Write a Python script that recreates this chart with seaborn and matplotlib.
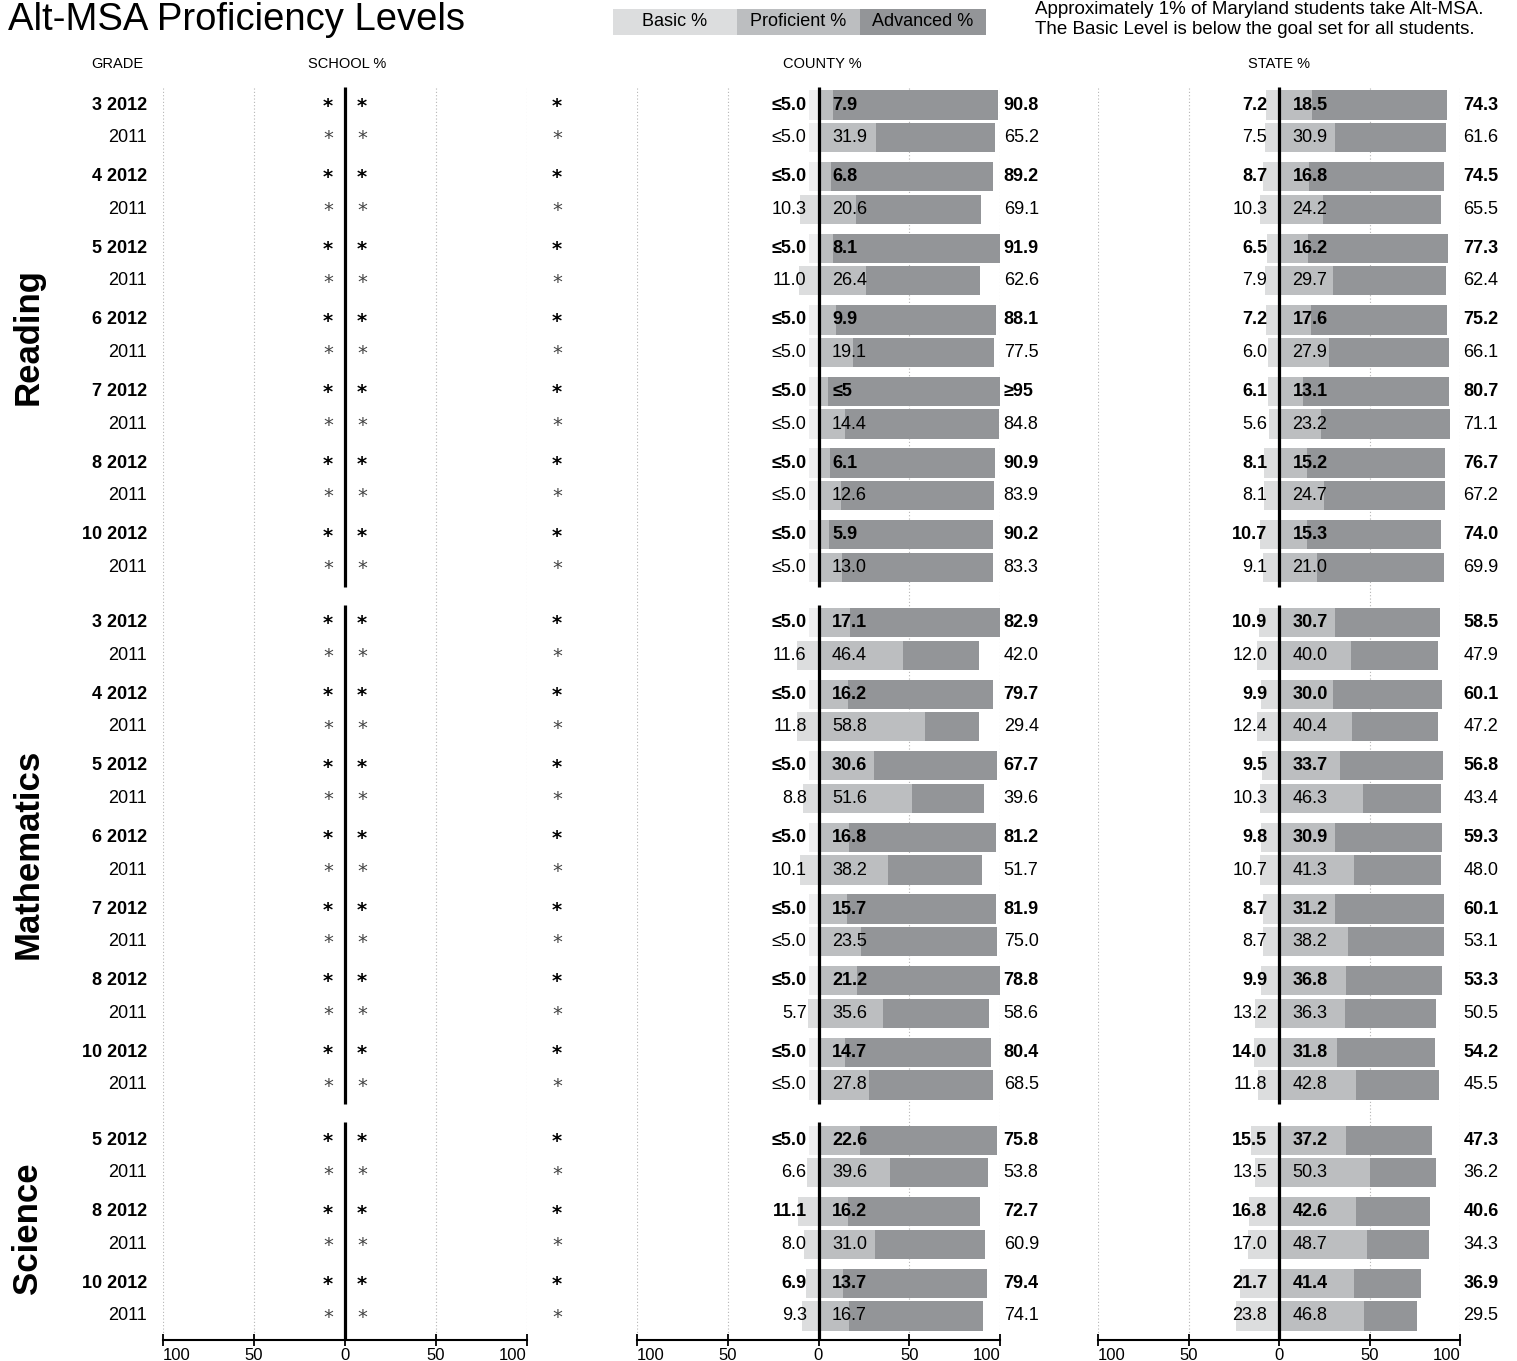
import numpy as np
import pandas as pd
import matplotlib.pyplot as plt
import matplotlib.transforms as mtransforms
from matplotlib.patches import Rectangle
import seaborn as sns

# ---- data -------------------------------------------------------------
subjects = ["Reading", "Mathematics", "Science"]
grades = {
    "Reading": ["3", "4", "5", "6", "7", "8", "10"],
    "Mathematics": ["3", "4", "5", "6", "7", "8", "10"],
    "Science": ["5", "8", "10"],
}
years = ["2012", "2011"]

# values as printed, one entry per row (grade 2012, grade 2011, ...)
county_basic = [
    "≤5.0", "≤5.0", "≤5.0", "10.3", "≤5.0", "11.0", "≤5.0", "≤5.0", "≤5.0", "≤5.0", "≤5.0", "≤5.0", "≤5.0", "≤5.0",
    "≤5.0", "11.6", "≤5.0", "11.8", "≤5.0", "8.8", "≤5.0", "10.1", "≤5.0", "≤5.0", "≤5.0", "5.7", "≤5.0", "≤5.0",
    "≤5.0", "6.6", "11.1", "8.0", "6.9", "9.3",
]
county_prof = [
    "7.9", "31.9", "6.8", "20.6", "8.1", "26.4", "9.9", "19.1", "≤5", "14.4", "6.1", "12.6", "5.9", "13.0",
    "17.1", "46.4", "16.2", "58.8", "30.6", "51.6", "16.8", "38.2", "15.7", "23.5", "21.2", "35.6", "14.7", "27.8",
    "22.6", "39.6", "16.2", "31.0", "13.7", "16.7",
]
county_adv = [
    "90.8", "65.2", "89.2", "69.1", "91.9", "62.6", "88.1", "77.5", "≥95", "84.8", "90.9", "83.9", "90.2", "83.3",
    "82.9", "42.0", "79.7", "29.4", "67.7", "39.6", "81.2", "51.7", "81.9", "75.0", "78.8", "58.6", "80.4", "68.5",
    "75.8", "53.8", "72.7", "60.9", "79.4", "74.1",
]
state_basic = [
    "7.2", "7.5", "8.7", "10.3", "6.5", "7.9", "7.2", "6.0", "6.1", "5.6", "8.1", "8.1", "10.7", "9.1",
    "10.9", "12.0", "9.9", "12.4", "9.5", "10.3", "9.8", "10.7", "8.7", "8.7", "9.9", "13.2", "14.0", "11.8",
    "15.5", "13.5", "16.8", "17.0", "21.7", "23.8",
]
state_prof = [
    "18.5", "30.9", "16.8", "24.2", "16.2", "29.7", "17.6", "27.9", "13.1", "23.2", "15.2", "24.7", "15.3", "21.0",
    "30.7", "40.0", "30.0", "40.4", "33.7", "46.3", "30.9", "41.3", "31.2", "38.2", "36.8", "36.3", "31.8", "42.8",
    "37.2", "50.3", "42.6", "48.7", "41.4", "46.8",
]
state_adv = [
    "74.3", "61.6", "74.5", "65.5", "77.3", "62.4", "75.2", "66.1", "80.7", "71.1", "76.7", "67.2", "74.0", "69.9",
    "58.5", "47.9", "60.1", "47.2", "56.8", "43.4", "59.3", "48.0", "60.1", "53.1", "53.3", "50.5", "54.2", "45.5",
    "47.3", "36.2", "40.6", "34.3", "36.9", "29.5",
]
school_value = "*"  # school results suppressed

# ---- colours / fonts --------------------------------------------------
BASIC = "#dcddde"
BASIC_FAINT = "#eeeeef"
PROF = "#bcbec0"
ADV = "#939598"

sns.set_style("white")
plt.rcParams["font.family"] = ["Liberation Sans", "DejaVu Sans"]
plt.rcParams["text.color"] = "black"
plt.rcParams["xtick.color"] = "black"
plt.rcParams["axes.labelcolor"] = "black"
VAL_SIZE = 13


def num(s):
    return float(s.strip("≤≥"))


# ---- build table ------------------------------------------------------
rows = []
y = 0.0
for subj in subjects:
    for g in grades[subj]:
        for k, yr in enumerate(years):
            rows.append({"subject": subj, "grade": g, "year": yr, "y": round(y + k, 3)})
        y += 2.2
    y += 0.5
df = pd.DataFrame(rows)
df["county_basic"] = county_basic
df["county_prof"] = county_prof
df["county_adv"] = county_adv
df["state_basic"] = state_basic
df["state_prof"] = state_prof
df["state_adv"] = state_adv

px_per_unit = (1316 - 105) / df["y"].max()
y_top = -(105 - 85) / px_per_unit
y_bot = df["y"].max() + (1340 - 1316) / px_per_unit

# ---- figure -----------------------------------------------------------
W, H = 1517, 1361
fig = plt.figure(figsize=(W / 100, H / 100), dpi=100)


def add_panel(x0, x1):
    return fig.add_axes([x0 / W, 1 - 1340 / H, (x1 - x0) / W, (1340 - 85) / H])


ax_school = add_panel(163, 527)
ax_county = add_panel(637, 1000)
ax_state = add_panel(1098, 1460)


def style_axis(ax):
    ax.set_xlim(-100, 100)
    ax.set_ylim(y_bot, y_top)
    ax.set_xlabel("")
    ax.set_ylabel("")
    ax.set_yticks([])
    for side in ["top", "right", "left"]:
        ax.spines[side].set_visible(False)
    ax.spines["bottom"].set_bounds(-100, 100)
    ax.spines["bottom"].set_linewidth(1.5)
    ax.spines["bottom"].set_color("black")
    ax.set_xticks([-100, -50, 0, 50, 100])
    ax.set_xticklabels(["100", "50", "0", "50", "100"])
    ax.tick_params(axis="x", direction="inout", length=9, width=1.3, labelsize=12, pad=1, bottom=True)
    labs = ax.get_xticklabels()
    labs[0].set_ha("left")
    labs[-1].set_ha("right")
    ax.patch.set_alpha(0)
    # dotted guides
    ax.vlines([-100, -50, 50, 100], y_top + 0.1, y_bot, colors="#b5b5b5",
              linestyles=(0, (1, 2)), linewidth=0.8, zorder=0)
    # zero line per subject
    for subj in subjects:
        sub = df[df["subject"] == subj]
        lo = sub["y"].min() - 0.55
        hi = sub["y"].max() + 0.6 if subj != subjects[-1] else y_bot
        ax.vlines(0, lo, hi, colors="black", linewidth=2.3, zorder=6)


def draw_bars(ax, prefix):
    d = df.copy()
    d["basic_x"] = -d[prefix + "_basic"].map(num)
    d["basic_kind"] = np.where(d[prefix + "_basic"].str.startswith("≤"), "faint", "solid")
    d["prof_x"] = d[prefix + "_prof"].map(num)
    d["total_x"] = d["prof_x"] + d[prefix + "_adv"].map(num)
    common = dict(y="y", orient="h", native_scale=True, width=0.9, saturation=1,
                  errorbar=None, linewidth=0, ax=ax)
    sns.barplot(data=d, x="basic_x", hue="basic_kind", dodge=False,
                palette={"faint": BASIC_FAINT, "solid": BASIC}, legend=False, **common)
    sns.barplot(data=d, x="total_x", color=ADV, **common)
    sns.barplot(data=d, x="prof_x", color=PROF, **common)
    for _, r in d.iterrows():
        fw = "bold" if r["year"] == "2012" else "normal"
        ax.text(-6.5, r["y"], r[prefix + "_basic"], ha="right", va="center", fontsize=VAL_SIZE,
                fontweight=fw, zorder=7, clip_on=False)
        ax.text(7.5, r["y"], r[prefix + "_prof"], ha="left", va="center", fontsize=VAL_SIZE,
                fontweight=fw, zorder=7, clip_on=False)
        ax.text(102, r["y"], r[prefix + "_adv"], ha="left", va="center", fontsize=VAL_SIZE,
                fontweight=fw, zorder=7, clip_on=False)


draw_bars(ax_county, "county")
draw_bars(ax_state, "state")

# school panel: suppressed values
for _, r in df.iterrows():
    bold = r["year"] == "2012"
    kw = dict(ha="center", va="center", fontsize=14, fontweight="bold" if bold else "normal",
              color="black" if bold else "#444444", clip_on=False, family="DejaVu Sans")
    for xx in [-9.3, 9.3, 116.5]:
        ax_school.text(xx, r["y"] + 0.04, school_value, **kw)
    label = (r["grade"] + " " + r["year"]) if bold else r["year"]
    ax_school.text(-108.8, r["y"], label, ha="right", va="center", fontsize=VAL_SIZE,
                   fontweight="bold" if bold else "normal", clip_on=False)

for ax in [ax_school, ax_county, ax_state]:
    style_axis(ax)

# subject labels
tr = mtransforms.blended_transform_factory(fig.transFigure, ax_school.transData)
for subj in subjects:
    sub = df[df["subject"] == subj]
    yc = (sub["y"].min() + sub["y"].max()) / 2
    fig.text(28 / W, yc, subj, transform=tr, rotation=90, ha="center", va="center",
             fontsize=25, fontweight="bold")

# column headers
for x, t in [(117, "GRADE"), (347, "SCHOOL %"), (822, "COUNTY %"), (1279, "STATE %")]:
    fig.text(x / W, 1 - 64 / H, t, ha="center", va="center", fontsize=10.5)

# title and notes
fig.text(8 / W, 1 - 20 / H, "Alt-MSA Proficiency Levels", ha="left", va="center", fontsize=27.5)
fig.text(1035 / W, 1 - 9 / H, "Approximately 1% of Maryland students take Alt-MSA.",
         ha="left", va="center", fontsize=13.5)
fig.text(1035 / W, 1 - 30 / H, "The Basic Level is below the goal set for all students.",
         ha="left", va="center", fontsize=13.5)

# legend strip
for x0, x1, c, t in [(613, 737, BASIC, "Basic %"), (737, 860, PROF, "Proficient %"),
                     (860, 986, ADV, "Advanced %")]:
    fig.patches.append(Rectangle((x0 / W, 1 - 35 / H), (x1 - x0) / W, 26 / H,
                                 transform=fig.transFigure, facecolor=c, edgecolor="none"))
    fig.text((x0 + x1) / 2 / W, 1 - 22 / H, t, ha="center", va="center", fontsize=13)

fig.savefig("out.png", dpi=100)
plt.close(fig)
